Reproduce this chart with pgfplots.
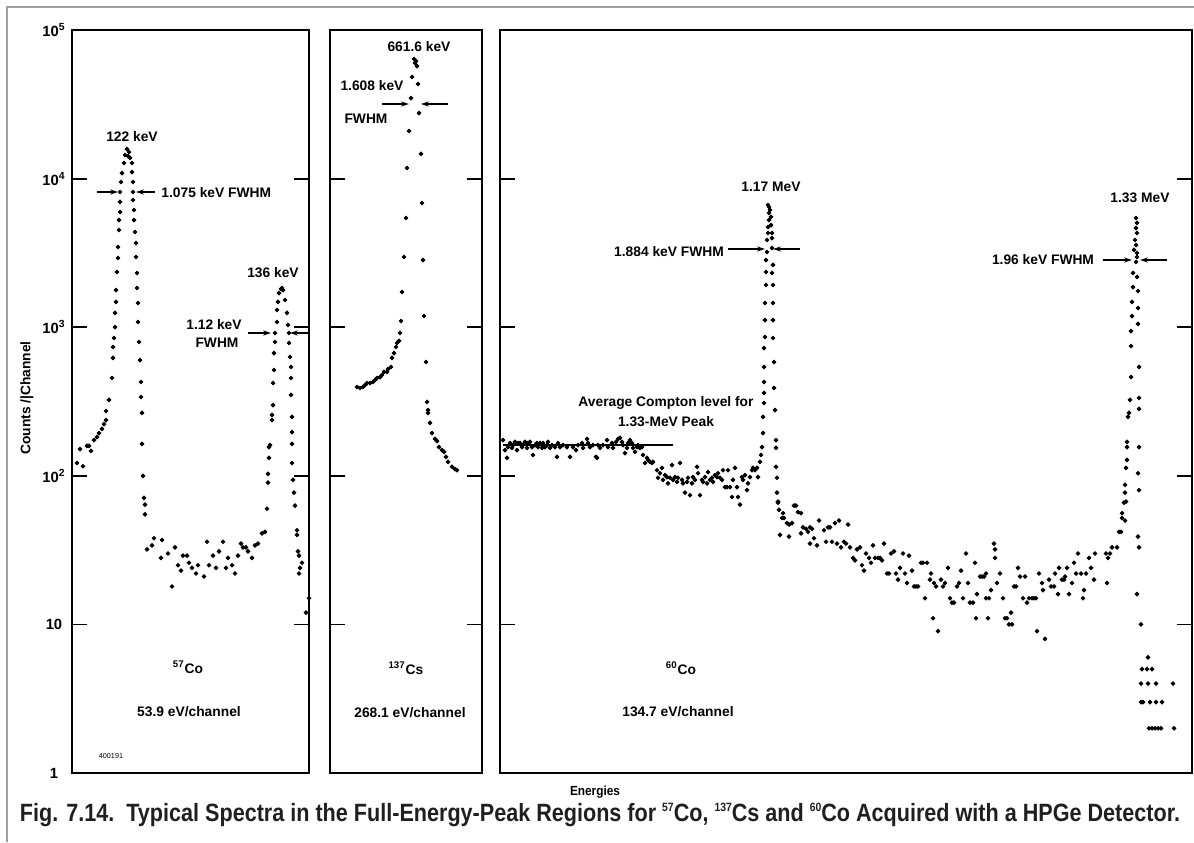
\documentclass[border=0pt]{standalone}
\usepackage{pgfplots}
\pgfplotsset{compat=1.18}
\usepackage{fontspec}
\setmainfont{Liberation Sans}
\usetikzlibrary{arrows.meta}

\pgfplotsset{
  every axis/.append style={
    scale only axis, height=371.5pt,
    anchor=south west,
    axis line style={line width=1pt},
    xtick=\empty,
    yminorticks=false,
    major tick length=7.5pt,
    tick style={line width=0.9pt, black},
    clip=false,
  },
  spdot/.style={only marks, mark=*, mark size=0.95pt, black},
}

\tikzset{
  lbl/.style={font=\fontsize{6.9}{8}\selectfont\bfseries, inner sep=0pt},
  fw/.style={line width=0.6pt, -{Stealth[length=4pt,width=2.6pt]}},
}
\newcommand{\sups}[1]{\raisebox{0.75ex}{\fontsize{6}{6}\selectfont #1}}

\begin{document}
\begin{tikzpicture}
\useasboundingbox (0,0) rectangle (597pt,421pt);

% 57Co
\begin{axis}[ymode=log, ymin=1, ymax=1e5,
  at={(36pt,34.5pt)}, width=118.5pt, xmin=72, xmax=309,
  ytick={1,10,100,1000,10000,100000},
  yticklabels={1,10,10\textsuperscript{2},10\textsuperscript{3},10\textsuperscript{4},10\textsuperscript{5}},
  yticklabel style={font=\fontsize{7.4}{8}\selectfont\bfseries, anchor=center, xshift=-9pt}]
\addplot[spdot] coordinates {
(77,122)(80,151)(83,116)(87,159)(89,159)(91,147)(94,174)(97,182)(99,194)(102,207)
(104,223)(106,237)(106,273)(109,324)(112,455)(113,621)(113,736)(114,846)(115,1000)
(115,1247)(116,1479)(116,1778)(117,2352)(118,2922)(118,3467)(119,4508)(119,5260)
(120,5957)(120,6966)(120,8128)(121,9490)(122,10900)(124,12740)(125,14420)(127,15810)
(128,14190)(129,15100)(130,13770)(132,12740)(132,11070)(133,9490)(133,8128)(133,7178)
(134,6150)(134,5260)(135,4373)(136,3687)(136,2967)(137,2317)(137,1836)(138,1455)
(138,1084)(139,795)(140,601)(141,428)(141,339)(142,265)(142,164)(143,100)(144,71)
(145,64)(145,55)
(147,32)(152,34)(154,38)(161,28)(162,37)(168,30)(172,18)(175,33)(178,25)(181,23)
(183,29)(187,29)(189,26)(192,24)(196,22)(198,25)(204,21)(207,36)(209,25)(213,29)
(216,24)(219,31)(223,36)(226,24)(228,28)(232,25)(235,22)(238,29)(241,35)(243,33)
(246,33)(248,31)(252,28)(255,34)(258,35)(262,41)(265,42)(267,60)(268,90)(268,103)
(269,132)(269,156)(270,161)(272,237)(272,257)(273,299)(273,421)(274,515)(274,670)
(275,795)(275,914)(277,1084)(277,1306)(278,1479)(279,1698)(281,1807)(282,1836)
(283,1778)(285,1524)(287,1247)(288,1035)(289,914)(289,783)(290,630)(291,540)
(291,455)(291,350)(292,249)(292,197)(292,164)(292,122)(293,94)(294,77)(295,63)
(297,43)(297,40)(298,31)(299,29)(300,24)(299,22)(302,26)(306,12)(309,15)
};
\end{axis}

% 137Cs
\begin{axis}[ymode=log, ymin=1, ymax=1e5,
  at={(165pt,34.5pt)}, width=76pt, xmin=330, xmax=482,
  ytick={10,100,1000,10000}, yticklabels={}]
\addplot[spdot] coordinates {
(357,396)(360,390)(363,396)(365,408)(367,421)(370,421)(373,428)(375,441)(377,455)
(380,462)(382,477)(384,500)(387,500)(388,523)(391,540)(392,621)(394,670)(396,736)
(397,783)(399,808)(400,914)(401,1101)(402,1725)(404,2967)(406,5430)(407,11780)
(409,20900)(411,34800)(412,48300)(414,63800)(415,60000)(416,61800)(417,57200)
(418,43300)(419,27600)(421,14650)(422,6850)(423,2830)(424,1190)(426,583)(427,314)
(428,277)(428,265)(430,227)(432,194)(435,177)(437,171)(439,156)(442,149)(444,145)
(446,134)(448,124)(452,115)(455,111)(457,109)
};
\end{axis}

% 60Co
\begin{axis}[ymode=log, ymin=1, ymax=1e5,
  at={(250pt,34.5pt)}, width=346pt, xmin=500, xmax=1192,
  ytick={10,100,1000,10000}, yticklabels={}]
\addplot[line width=1pt, no marks] coordinates {(503,161)(673,161)};
\addplot[spdot] coordinates {
(503,174)(505,149)(507,132)(508,156)(510,166)(512,154)(513,161)(515,169)(517,149)
(518,166)(520,166)(522,156)(523,161)(525,169)(527,154)(528,166)(530,169)(532,156)
(533,138)(535,161)(537,166)(538,156)(540,166)(542,154)(543,166)(545,156)(547,161)
(548,169)(550,154)(552,161)(555,156)(557,134)(558,166)(560,156)(563,161)(567,156)
(570,134)(573,156)(576,149)(578,161)(582,166)(583,154)(587,177)(588,166)(590,156)
(593,161)(596,134)(597,132)(598,161)(600,154)(603,161)(607,174)(608,156)(612,166)
(613,154)(616,169)(618,177)(620,180)(622,169)(623,161)(625,142)(627,154)(628,166)
(630,174)(632,166)(633,154)(635,145)(637,156)(638,161)(640,154)(642,156)
(643,138)(645,122)(647,132)(648,128)(650,124)(652,122)(653,124)(657,109)(658,97)
(660,104)(662,113)(663,94)(665,101)(667,98)(668,89)(670,97)(672,118)(673,94)
(675,98)(677,91)(678,97)(680,122)(682,94)(683,89)(685,77)(687,91)(688,97)(690,74)
(692,89)(693,98)(695,94)(697,115)(698,104)(700,74)(702,94)(703,91)(705,98)(707,89)
(708,106)(710,94)(712,97)(713,91)(715,101)(717,98)(718,104)(720,97)(722,94)
(723,109)(725,84)(727,84)(728,109)(730,84)(732,72)(733,94)(735,113)(737,84)(738,72)
(740,64)(742,98)(743,94)(745,101)(747,80)(748,89)(750,98)(752,109)(753,113)
(755,109)(757,113)(758,98)(760,124)
(761,138)(762,156)(763,194)(763,249)(764,309)(764,361)(764,428)(764,540)(764,724)
(765,859)(765,1117)(765,1455)(766,1923)(766,2352)(766,2831)(767,3206)(767,3862)
(768,4305)(768,4721)(769,5260)(769,5870)(769,6440)(768,6640)(770,6150)(771,5520)
(771,4870)(772,4305)(772,3980)(772,3410)(773,2624)(772,2317)(773,1923)(773,1455)
(773,1117)(773,846)(774,583)(774,390)(775,277)(776,174)(776,154)(776,115)(777,97)
(777,77)(778,66)(779,59)(782,52)
(778,67)(783,56)(784,52)(787,48)(789,47)(792,48)(794,63)(796,63)(798,57)(801,56)
(780,40)(789,39)(801,41)(803,45)(806,44)(808,42)(810,45)(812,44)(810,35)(814,38)
(817,34)(819,50)(824,43)(826,36)(828,45)(830,45)(832,36)(835,48)(837,35)(839,50)
(841,33)(844,36)(846,35)(848,47)(850,33)(853,28)(855,27)(857,32)(860,33)(862,25)
(864,23)(866,30)(869,28)(871,26)(873,34)(875,28)(878,28)(880,28)(882,27)(884,35)
(887,22)(889,22)(891,30)(894,31)(896,22)(898,20)(900,24)(903,30)(905,22)(907,19)
(909,29)(912,23)(914,18)(916,18)(918,18)(921,26)(923,26)(925,15)(927,26)(930,20)
(931,22)(933,11)(934,19)(936,18)(938,9)(941,20)(943,18)(945,19)(948,24)(950,15)
(952,14)(954,14)(957,18)(959,19)(961,23)(963,15)(966,30)(968,19)(970,14)(973,14)
(975,26)(976,11)(977,16)(980,21)(982,21)(984,21)(986,22)(986,15)(988,11)(989,15)
(991,17)(994,35)(995,32)(995,28)(997,19)(1000,22)(1003,15)(1005,11)(1007,11)
(1009,10)(1011,12)(1012,10)(1014,18)(1016,18)(1018,24)(1020,21)(1023,15)(1025,21)
(1027,14)(1029,15)(1032,15)(1034,15)(1036,15)(1037,9)(1039,22)(1042,19)(1043,17)
(1045,8)(1049,20)(1051,18)(1054,18)(1055,22)(1058,16)(1059,24)(1062,20)(1064,20)
(1065,21)(1067,24)(1069,16)(1072,19)(1074,26)(1076,22)(1078,30)(1081,22)(1083,15)
(1084,17)(1086,22)(1089,28)(1091,24)(1094,20)(1095,30)(1106,30)(1108,28)(1110,30)
(1107,19)(1112,33)(1117,33)(1119,42)(1121,42)(1122,52)(1125,50)(1126,67)
(1122,56)(1124,66)(1125,87)(1125,77)(1126,113)(1127,128)(1127,156)(1127,169)
(1128,249)(1129,265)(1130,324)(1131,462)(1131,747)(1131,942)(1132,1187)(1132,1479)
(1133,1862)(1133,2317)(1134,3311)(1135,3862)(1136,4640)(1136,5430)(1137,5030)
(1137,4305)(1136,3573)(1137,3157)(1137,2967)(1136,2748)(1137,2178)(1138,1753)
(1138,1346)(1138,1052)(1139,540)(1139,334)(1139,282)(1139,156)(1138,104)(1139,80)
(1138,39)(1139,33)(1137,16)(1141,10)(1148,6)
(1142,5)(1147,5)(1152,5)(1141,4)(1148,4)(1156,4)(1173,4)
(1141,3)(1143,3)(1150,3)(1156,3)(1162,3)
(1149,2)(1152,2)(1155,2)(1158,2)(1161,2)(1174,2)
};
\end{axis}

% annotations, in pixel units of the reference (origin top left)
\begin{scope}[shift={(0pt,421pt)}, x=0.5pt, y=-0.5pt]
\draw[gray!75, line width=0.8pt] (7,842) -- (7,7) -- (1194,7);
\node[lbl, rotate=90] at (27,398) {Counts /|Channel};

\node[lbl] at (132,137) {122 keV};
\draw[fw] (97,192) -- (118,192);
\draw[fw] (155,192) -- (136,192);
\node[lbl, anchor=west] at (161,193) {1.075 keV FWHM};
\node[lbl] at (273,273) {136 keV};
\node[lbl] at (214,325) {1.12 keV};
\node[lbl] at (217,343) {FWHM};
\draw[fw] (248,333) -- (271,333);
\draw[fw] (308,333) -- (290,333);
\node[lbl] at (188,667) {\textsuperscript{57}Co};
\node[lbl] at (189,712) {53.9 eV/channel};
\node[font=\fontsize{3.6}{4}\selectfont, inner sep=0pt] at (111,756) {400191};

\node[lbl] at (419,47) {661.6 keV};
\node[lbl] at (372,86) {1.608 keV};
\node[lbl] at (366,119) {FWHM};
\draw[fw] (382,104) -- (409,104);
\draw[fw] (448,104) -- (421,104);
\node[lbl] at (406,668) {\textsuperscript{137}Cs};
\node[lbl] at (410,713) {268.1 eV/channel};

\node[lbl] at (771,187) {1.17 MeV};
\node[lbl] at (669,252) {1.884 keV FWHM};
\draw[fw] (728,249) -- (765,249);
\draw[fw] (800,249) -- (773,249);
\node[lbl] at (666,403) {Average Compton level for};
\node[lbl] at (666,422) {1.33-MeV Peak};
\node[lbl] at (1140,198) {1.33 MeV};
\node[lbl] at (1043,260) {1.96 keV FWHM};
\draw[fw] (1103,260) -- (1132,260);
\draw[fw] (1167,260) -- (1140,260);
\node[lbl] at (681,668) {\textsuperscript{60}Co};
\node[lbl] at (678,712) {134.7 eV/channel};

\node[inner sep=0pt, font=\fontsize{6.6}{7}\selectfont\bfseries] at (595,792) {\resizebox{25pt}{\height}{Energies}};
\node[inner sep=0pt, text=black!88, font=\fontsize{12.5}{13}\selectfont\bfseries] at (600,815)
  {\resizebox{580pt}{\height}{Fig. 7.14.\ \ Typical Spectra in the Full-Energy-Peak Regions for \sups{57}Co, \sups{137}Cs and \sups{60}Co Acquired with a HPGe Detector.}};
\end{scope}
\end{tikzpicture}
\end{document}
